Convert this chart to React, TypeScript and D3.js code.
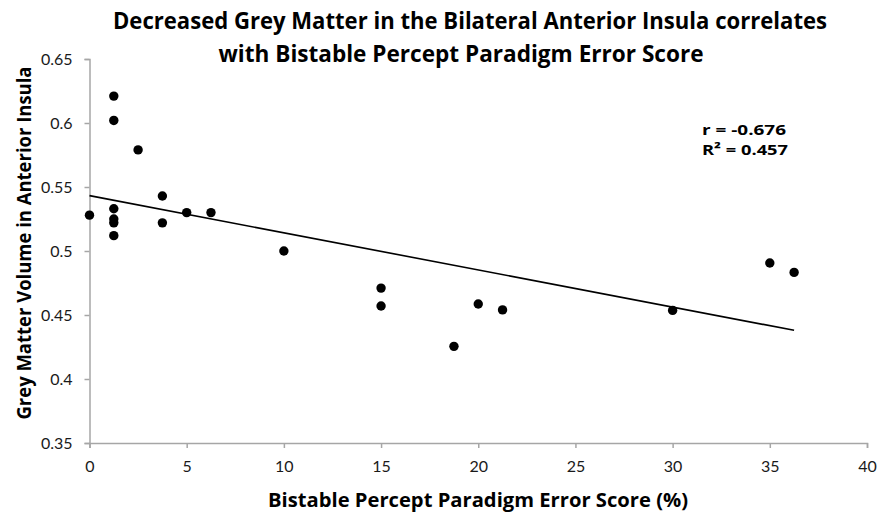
import { useEffect, useRef } from 'react';
import * as d3 from 'd3';

// error score (%) for each subject
const errorScores = [0, 1.25, 1.25, 1.25, 1.25, 1.25, 1.25, 2.5, 3.75, 3.75, 5, 6.25, 10, 15, 15, 18.75, 20, 21.25, 30, 35, 36.25];
// grey matter volume in anterior insula
const greyVolumes = [0.528, 0.621, 0.602, 0.533, 0.525, 0.522, 0.512, 0.579, 0.543, 0.522, 0.53, 0.53, 0.5, 0.471, 0.457, 0.4255, 0.4586, 0.454, 0.4536, 0.4906, 0.4833];

const xTicks = [0, 5, 10, 15, 20, 25, 30, 35, 40];
const yTicks = [0.35, 0.4, 0.45, 0.5, 0.55, 0.6, 0.65];

const titleLines = [
  'Decreased Grey Matter in the Bilateral Anterior Insula correlates',
  'with Bistable Percept Paradigm Error Score',
];
const statLines = ['r = -0.676', 'R² = 0.457'];

const W = 879;
const H = 513;
const margin = { top: 59, right: 12, bottom: 70, left: 89.5 };
const FONT = 'Lato, "Open Sans", sans-serif';
const BOLD = '"Open Sans", Lato, sans-serif';

export default function App() {
  const svgRef = useRef<SVGSVGElement>(null);

  useEffect(() => {
    if (!svgRef.current) return;
    const svg = d3.select(svgRef.current);
    svg.selectAll('*').remove();

    const innerW = W - margin.left - margin.right;
    const innerH = H - margin.top - margin.bottom;

    const x = d3.scaleLinear().domain([0, 40]).range([0, innerW]);
    const y = d3.scaleLinear().domain([0.35, 0.65]).range([innerH, 0]);

    const g = svg.append('g').attr('transform', `translate(${margin.left},${margin.top})`);

    // axes
    const axisColor = '#a6a6a6';
    const yAxis = g.append('g')
      .call(d3.axisLeft(y).tickValues(yTicks).tickFormat(d => String(+d)).tickSize(5).tickPadding(12));
    const xAxis = g.append('g')
      .attr('transform', `translate(0,${innerH})`)
      .call(d3.axisBottom(x).tickValues(xTicks).tickFormat(d => String(d)).tickSize(5).tickPadding(13));

    [yAxis, xAxis].forEach(a => {
      a.select('.domain').attr('stroke', axisColor).attr('stroke-width', 1.5);
      a.selectAll('.tick line').attr('stroke', axisColor).attr('stroke-width', 1.5);
      a.selectAll('.tick text')
        .attr('fill', '#1a1a1a')
        .style('font-family', FONT)
        .style('font-size', '16px');
    });

    // least-squares trend line
    const pts = errorScores.map((v, i) => ({ x: v, y: greyVolumes[i] }));
    const mx = d3.mean(pts, d => d.x) || 0;
    const my = d3.mean(pts, d => d.y) || 0;
    const sxy = d3.sum(pts, d => (d.x - mx) * (d.y - my));
    const sxx = d3.sum(pts, d => (d.x - mx) ** 2);
    const slope = sxy / sxx;
    const intercept = my - slope * mx;
    const xMax = d3.max(errorScores) || 0;

    g.append('line')
      .attr('x1', x(0)).attr('y1', y(intercept))
      .attr('x2', x(xMax)).attr('y2', y(intercept + slope * xMax))
      .attr('stroke', '#000')
      .attr('stroke-width', 1.6);

    g.selectAll('.dot')
      .data(pts)
      .enter().append('circle')
      .attr('class', 'dot')
      .attr('cx', d => x(d.x))
      .attr('cy', d => y(d.y))
      .attr('r', 4.7)
      .attr('fill', '#000');

    // title
    const titleWidths = [714, 485];
    const titleCenters = [470, 461];
    svg.selectAll('.title')
      .data(titleLines)
      .enter().append('text')
      .attr('class', 'title')
      .attr('x', (d, i) => titleCenters[i])
      .attr('y', (d, i) => 29 + i * 33)
      .attr('text-anchor', 'middle')
      .attr('textLength', (d, i) => titleWidths[i])
      .attr('lengthAdjust', 'spacingAndGlyphs')
      .style('font-family', BOLD)
      .style('font-weight', 700)
      .style('font-size', '23px')
      .text(d => d);

    // r / R² annotation
    svg.selectAll('.stat')
      .data(statLines)
      .enter().append('text')
      .attr('class', 'stat')
      .attr('x', 702)
      .attr('y', (d, i) => 134.5 + i * 20.5)
      .attr('textLength', (d, i) => (i === 0 ? 84 : 86))
      .attr('lengthAdjust', 'spacingAndGlyphs')
      .style('font-family', BOLD)
      .style('font-weight', 700)
      .style('font-size', '15px')
      .text(d => d);

    // axis titles
    svg.append('text')
      .attr('x', 478)
      .attr('y', 507)
      .attr('text-anchor', 'middle')
      .attr('textLength', 420)
      .attr('lengthAdjust', 'spacingAndGlyphs')
      .style('font-family', BOLD)
      .style('font-weight', 700)
      .style('font-size', '20px')
      .text('Bistable Percept Paradigm Error Score (%)');

    svg.append('text')
      .attr('transform', 'translate(31,243) rotate(-90)')
      .attr('text-anchor', 'middle')
      .attr('textLength', 353)
      .attr('lengthAdjust', 'spacingAndGlyphs')
      .style('font-family', BOLD)
      .style('font-weight', 700)
      .style('font-size', '19px')
      .text('Grey Matter Volume in Anterior Insula');
  }, []);

  return (
    <svg
      ref={svgRef}
      width={W}
      height={H}
      style={{ position: 'absolute', left: 0, top: 0, background: '#fff' }}
    />
  );
}
